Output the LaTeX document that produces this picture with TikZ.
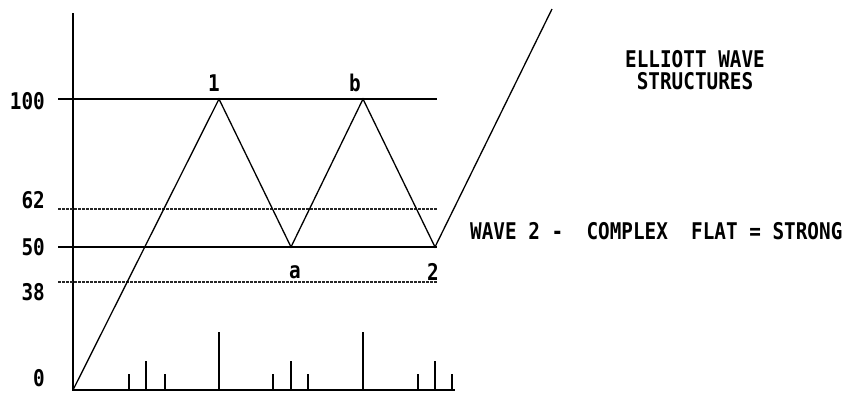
\documentclass[tikz,border=0pt]{standalone}
\usepackage{fontspec}
\newfontfamily\pixfont{DejaVu Sans Mono}
\newcommand\pxt[1]{\scalebox{0.84}[1]{#1}}
\tikzset{
  lbl/.style={inner sep=0pt, font=\pixfont\bfseries\fontsize{23}{25}\selectfont},
  axisline/.style={line width=1.8pt},
  level/.style={line width=1.8pt},
  fib/.style={line width=1.8pt, dash pattern=on 3pt off 1pt, black!85},
  wave/.style={line width=1.3pt, line join=miter},
  tick/.style={line width=1.5pt}
}
\begin{document}
\begin{tikzpicture}[x=1pt,y=-1pt]
\useasboundingbox (0,0) rectangle (846,392);
% axes
\coordinate (ytop) at (73,13);
\coordinate (orig) at (73,390);
\coordinate (xend) at (455,390);
\draw[axisline] (ytop) -- (orig) -- (xend);
% level lines
\coordinate (l100a) at (58,99);  \coordinate (l100b) at (437,99);
\coordinate (l62a) at (58,209);  \coordinate (l62b) at (437,209);
\coordinate (l50a) at (58,247);  \coordinate (l50b) at (437,247);
\coordinate (l38a) at (58,282);  \coordinate (l38b) at (437,282);
\draw[level] (l100a) -- (l100b);
\draw[level] (l50a) -- (l50b);
\draw[fib] (l62a) -- (l62b);
\draw[fib] (l38a) -- (l38b);
% axis labels
\node[lbl, anchor=east] (t100) at (45,101) {\pxt{100}};
\node[lbl, anchor=east] (t62) at (45,200) {\pxt{62}};
\node[lbl, anchor=east] (t50) at (45,247) {\pxt{50}};
\node[lbl, anchor=east] (t38) at (45,292) {\pxt{38}};
\node[lbl, anchor=east] (t0) at (45,378) {\pxt{0}};
% wave
\coordinate (p0) at (73,390);
\coordinate (w1) at (219,99);
\coordinate (wa) at (291,247);
\coordinate (wb) at (363,99);
\coordinate (w2) at (435,247);
\coordinate (pend) at (552,9);
\draw[wave] (p0) -- (w1) -- (wa) -- (wb) -- (w2) -- (pend);
% wave labels
\node[lbl] (n1) at (214,83) {\pxt{1}};
\node[lbl] (nb) at (355,83) {\pxt{b}};
\node[lbl] (na) at (295,272) {\pxt{a}};
\node[lbl] (n2) at (433,272) {\pxt{2}};
% ticks
\foreach \x/\h [count=\i] in {129/374,146/361,165/374,219/332,273/374,291/361,308/374,363/332,418/374,435/361,452/374}{
  \coordinate (tb\i) at (\x,390);
  \coordinate (tt\i) at (\x,\h);
  \draw[tick] (tb\i) -- (tt\i);
}
% title and caption
\node[lbl] (title1) at (695,59) {\pxt{ELLIOTT WAVE}};
\node[lbl] (title2) at (695,81) {\pxt{STRUCTURES}};
\node[lbl, anchor=west] (caption) at (470,231) {\pxt{WAVE 2 -\ \ COMPLEX\ \ FLAT = STRONG}};
\end{tikzpicture}
\end{document}
